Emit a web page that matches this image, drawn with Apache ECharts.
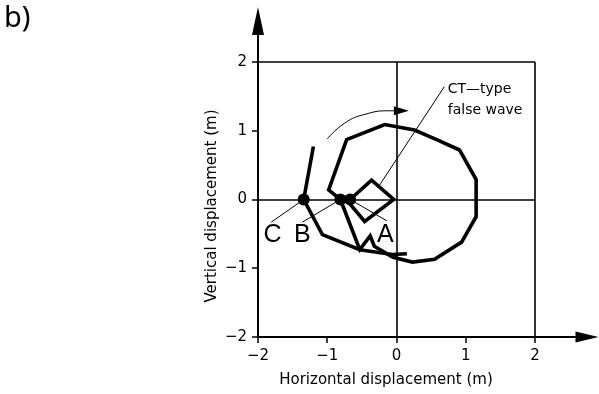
<!DOCTYPE html>
<html>
<head>
<meta charset="utf-8">
<style>
  html, body { margin: 0; padding: 0; background: #fff; }
  #chart { width: 599px; height: 394px; }
</style>
<script src="https://cdn.jsdelivr.net/npm/echarts@6/dist/echarts.min.js"></script>
</head>
<body>
<div id="chart"></div>
<script>
// Axis ticks (m)
const tickValues = [-2, -1, 0, 1, 2];

// Water particle path: short track through C that ends below the origin
const tailPath = [
  [-1.20, 0.77], [-1.34, 0.00], [-1.07, -0.51], [-0.53, -0.73],
  [-0.06, -0.80], [0.15, -0.79]
];

// Main orbit with the small CT-type loop near A
const orbitPath = [
  [-0.70, -0.03], [-0.46, -0.32], [-0.04, 0.00], [-0.36, 0.28],
  [-0.67, 0.00], [-0.81, 0.00], [-0.98, 0.14], [-0.72, 0.87],
  [-0.17, 1.09], [0.26, 1.01], [0.58, 0.87], [0.91, 0.72],
  [1.15, 0.29], [1.15, -0.25], [0.94, -0.62], [0.55, -0.87],
  [0.23, -0.91], [-0.05, -0.84], [-0.32, -0.68], [-0.38, -0.53],
  [-0.53, -0.73], [-0.81, 0.00]
];

// Marked instants on the horizontal axis: C, B, A
const markedPoints = [[-1.34, 0.00], [-0.81, 0.00], [-0.67, 0.00]];

// Label positions and the points their leader lines start from
const pointLabels = [[-1.79, -0.52, 'C'], [-1.36, -0.52, 'B'], [-0.16, -0.52, 'A']];
const leaderStarts = [[-1.81, -0.33], [-1.36, -0.33], [-0.14, -0.31]];

// Note about the false wave and its leader line
const noteText = ['CT\u2014type', 'false wave'];
const noteAnchor = [0.74, 1.45];
const noteLeader = [[0.69, 1.64], [-0.27, 0.17]];

// Curved arrow showing the direction of motion
const swirlArc = [[-1.00, 0.88], [-0.75, 1.11], [-0.45, 1.24], [-0.10, 1.29], [0.00, 1.29]];
const swirlHead = [0.07, 1.29];

const FONT = 'DejaVu Sans';
const minus = v => (v < 0 ? '\u2212' + Math.abs(v) : String(v));

const thin = { color: '#000', width: 1 };
const solidBlack = { color: '#000', opacity: 1 };
const leaderSeries = markedPoints.map((p, i) => ({
  type: 'line', data: [leaderStarts[i], p], symbol: 'none',
  lineStyle: thin, silent: true, z: 3
}));

const frameLines = [
  [{ coord: [2, -2] }, { coord: [2, 2] }],
  [{ coord: [-2, 2] }, { coord: [2, 2] }],
  [{ coord: [0, -2] }, { coord: [0, 2] }],
  [{ coord: [-2, 0] }, { coord: [2, 0] }]
];

const chart = echarts.init(document.getElementById('chart'), null, { renderer: 'canvas' });
chart.setOption({
  animation: false,
  backgroundColor: '#fff',
  grid: { left: 258, top: 21, width: 329, height: 316, containLabel: false },
  xAxis: {
    type: 'value', min: -2, max: 2.751, interval: 1,
    axisLine: {
      onZero: false, symbol: ['none', 'triangle'], symbolSize: [11, 23],
      lineStyle: { color: '#000', width: 2 }
    },
    axisTick: { customValues: tickValues, length: 6, lineStyle: { color: '#000', width: 1.5 } },
    axisLabel: {
      customValues: tickValues, formatter: minus, margin: 12,
      color: '#000', fontFamily: FONT, fontSize: 15
    },
    splitLine: { show: false }
  },
  yAxis: {
    type: 'value', min: -2, max: 2.596, interval: 1,
    axisLine: {
      onZero: false, symbol: ['none', 'triangle'], symbolSize: [12, 28],
      lineStyle: { color: '#000', width: 2 }
    },
    axisTick: { customValues: tickValues, length: 6, lineStyle: { color: '#000', width: 1.5 } },
    axisLabel: {
      customValues: tickValues, formatter: minus, margin: 11,
      color: '#000', fontFamily: FONT, fontSize: 15
    },
    splitLine: { show: false }
  },
  graphic: [
    { type: 'text', left: 4, top: 4, style: { text: 'b)', font: '29px "Noto Sans"', fill: '#000' } },
    { type: 'text', x: 386, y: 380, style: {
      text: 'Horizontal displacement (m)', font: '15px "DejaVu Sans"', fill: '#000',
      align: 'center', verticalAlign: 'middle' } },
    { type: 'text', x: 212, y: 206, rotation: Math.PI / 2, style: {
      text: 'Vertical displacement (m)', font: '15px "DejaVu Sans"', fill: '#000',
      align: 'center', verticalAlign: 'middle' } }
  ],
  series: [
    {
      type: 'line', data: [], silent: true,
      markLine: {
        symbol: 'none', silent: true, label: { show: false },
        lineStyle: { color: '#000', width: 1.6, type: 'solid' },
        data: frameLines
      }
    },
    {
      type: 'line', data: swirlArc, smooth: true, symbol: 'none',
      lineStyle: thin, silent: true
    },
    {
      type: 'scatter', data: [swirlHead], symbol: 'triangle', symbolRotate: -90,
      symbolSize: [9, 15], itemStyle: solidBlack, silent: true
    },
    ...leaderSeries,
    {
      type: 'line', data: noteLeader, symbol: 'none', lineStyle: thin, silent: true
    },
    {
      type: 'line', data: tailPath, symbol: 'none', z: 5,
      lineStyle: { color: '#000', width: 3.6, join: 'miter' }
    },
    {
      type: 'line', data: orbitPath, symbol: 'none', z: 5,
      lineStyle: { color: '#000', width: 3.6, join: 'miter' }
    },
    {
      type: 'scatter', data: markedPoints, symbol: 'circle', symbolSize: 12, z: 6,
      itemStyle: solidBlack
    },
    {
      type: 'scatter', data: pointLabels, symbolSize: 0, silent: true,
      itemStyle: solidBlack,
      label: {
        show: true, position: 'inside', formatter: p => p.value[2],
        color: '#000', fontFamily: 'Liberation Sans', fontSize: 25
      }
    },
    {
      type: 'scatter', data: [noteAnchor], symbolSize: 0, silent: true,
      itemStyle: solidBlack,
      label: {
        show: true, position: 'right', distance: 0, formatter: noteText.join('\n'),
        color: '#000', fontFamily: FONT, fontSize: 14, lineHeight: 21, align: 'left'
      }
    }
  ]
});
</script>
</body>
</html>
